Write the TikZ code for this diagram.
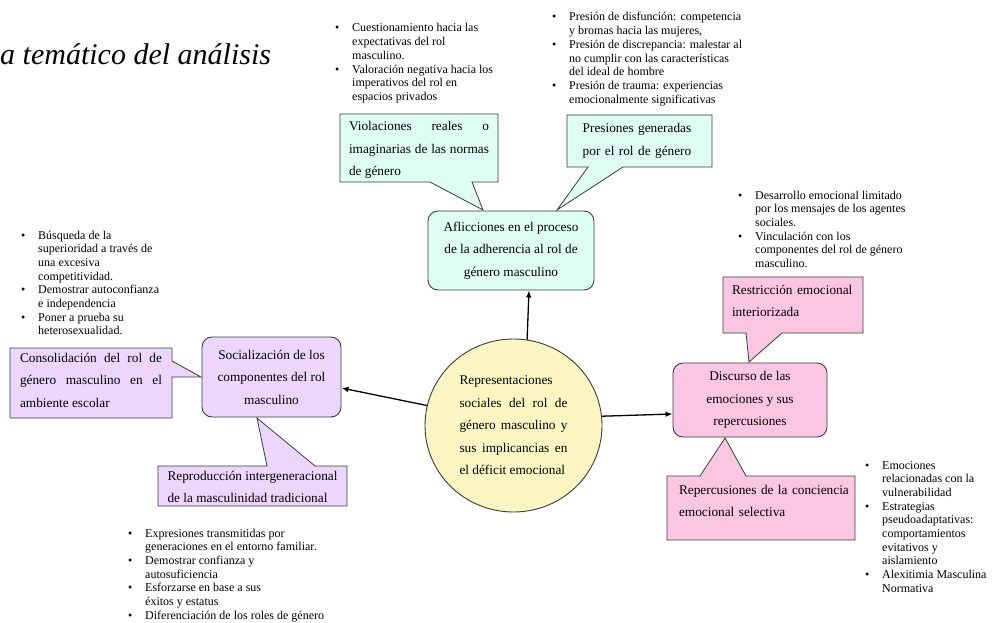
\documentclass[tikz,border=0pt]{standalone}
\usepackage{fontspec}
\setmainfont{Liberation Serif}
\usetikzlibrary{shapes.geometric,arrows.meta}

\definecolor{aqua}{HTML}{DEFDF3}
\definecolor{lila}{HTML}{ECD6FB}
\definecolor{rosa}{HTML}{FBC6E1}
\definecolor{crema}{HTML}{FBF5C1}
\definecolor{borde}{HTML}{3C3C3C}

\newcommand{\bl}{\makebox[17pt][l]{\textbullet}}
\newcommand{\boxfont}{\fontsize{13.3}{22.5}\selectfont}
\newcommand{\listfont}{\fontsize{12}{13.7}\selectfont}

\tikzset{
  tema/.style={draw=borde, line width=0.9pt, rounded corners=10pt, align=center, font=\boxfont, inner sep=0pt},
  globo/.style={draw=borde, line width=0.8pt},
  globotxt/.style={inner sep=0pt, font=\boxfont, align=justify},
  lista/.style={inner sep=0pt, anchor=base west, font=\listfont},
  flecha/.style={line width=1.3pt, -{Latex[length=7pt,width=5.5pt]}}
}

\begin{document}
\begin{tikzpicture}[x=1pt, y=-1pt]
  % marco de la pagina
  \useasboundingbox (0,0) rectangle (995,623);

  %% TITULO
  \node[anchor=base west, inner sep=0pt, font=\fontsize{30}{36}\selectfont\itshape] (titulo) at (0,65) {a temático del análisis};

  %% NUCLEO
  \node[ellipse, draw=borde, line width=0.9pt, fill=crema, minimum width=177pt, minimum height=173pt,
        inner sep=0pt, text width=108pt, align=justify, font=\boxfont] (nucleo) at (513.5,425.5)
    {Representaciones\newline sociales del rol de\linebreak género masculino y\linebreak sus implicancias en\linebreak el déficit emocional};

  %% CATEGORIAS
  % Aflicciones
  \node[tema, fill=aqua, minimum width=166pt, minimum height=79pt] (aflic) at (511,250.5)
    {Aflicciones en el proceso\\de la adherencia al rol de\\género masculino};
  % Socializacion
  \node[tema, fill=lila, minimum width=139pt, minimum height=80pt] (social) at (271.5,377)
    {Socialización de los\\componentes del rol\\masculino};
  % Discurso
  \node[tema, fill=rosa, minimum width=154pt, minimum height=74pt] (discurso) at (750,400)
    {Discurso de las\\emociones y sus\\repercusiones};

  %% FLECHAS
  \draw[flecha] (nucleo.81) -- ([xshift=18pt]aflic.south);
  \draw[flecha] (nucleo.167) -- ([yshift=-11pt]social.east);
  \draw[flecha] (nucleo.6) -- ([yshift=-14pt]discurso.west);

  %% SUBCATEGORIAS (globos)
  % Violaciones
  \draw[globo, fill=aqua] (340,114) -- (498,114) -- (498,182) -- (472,182) -- (483,210) -- (430,182) -- (340,182) -- cycle;
  \node[globotxt, text width=140pt] (violacion) at (419,150)
    {Violaciones reales o\linebreak imaginarias de las normas\linebreak de género};
  % Presiones
  \draw[globo, fill=aqua] (567,115) -- (712,115) -- (712,167) -- (623,167) -- (557,210) -- (588,167) -- (567,167) -- cycle;
  \node[globotxt, align=center, text width=145pt] (presion) at (637,141)
    {Presiones generadas\\por el rol de género};
  % Consolidacion
  \draw[globo, fill=lila] (10,348) -- (172,348) -- (172,361) -- (201,377) -- (172,377) -- (172,418) -- (10,418) -- cycle;
  \node[globotxt, text width=142pt] (consolida) at (91,380)
    {Consolidación del rol de\linebreak género masculino en el\linebreak ambiente escolar};
  % Reproduccion
  \draw[globo, fill=lila] (158,466) -- (267,466) -- (257,418) -- (315,466) -- (347,466) -- (347,506) -- (158,506) -- cycle;
  \node[globotxt, text width=170pt] (reproduce) at (252.5,487)
    {Reproducción intergeneracional\linebreak de la masculinidad tradicional};
  % Restriccion
  \draw[globo, fill=rosa] (723,277) -- (863,277) -- (863,333) -- (782,333) -- (749,362) -- (746,333) -- (723,333) -- cycle;
  \node[globotxt, align=left, text width=125pt] (restric) at (794.5,301)
    {Restricción emocional\\interiorizada};
  % Repercusiones
  \draw[globo, fill=rosa] (667,476) -- (700,476) -- (725,438) -- (746,476) -- (855,476) -- (855,540) -- (667,540) -- cycle;
  \node[globotxt, align=left, text width=172pt] (repercu) at (765,501)
    {Repercusiones de la conciencia\\emocional selectiva};

  %% LISTAS DE CODIGOS
  \node[lista] (lista1) at (335,32) {\begin{tabular}[t]{@{}l@{}l@{}}
    \bl & Cuestionamiento hacia las\\
        & expectativas del rol\\
        & masculino.\\
    \bl & Valoración negativa hacia los\\
        & imperativos del rol en\\
        & espacios privados
  \end{tabular}};

  \node[lista] (lista2) at (552,21) {\begin{tabular}[t]{@{}l@{}l@{}}
    \bl & Presión de disfunción: competencia\\
        & y bromas hacia las mujeres,\\
    \bl & Presión de discrepancia: malestar al\\
        & no cumplir con las características\\
        & del ideal de hombre\\
    \bl & Presión de trauma: experiencias\\
        & emocionalmente significativas
  \end{tabular}};

  \node[lista] (lista3) at (21,239) {\begin{tabular}[t]{@{}l@{}l@{}}
    \bl & Búsqueda de la\\
        & superioridad a través de\\
        & una excesiva\\
        & competitividad.\\
    \bl & Demostrar autoconfianza\\
        & e independencia\\
    \bl & Poner a prueba su\\
        & heterosexualidad.
  \end{tabular}};

  \node[lista] (lista4) at (128,537) {\begin{tabular}[t]{@{}l@{}l@{}}
    \bl & Expresiones transmitidas por\\
        & generaciones en el entorno familiar.\\
    \bl & Demostrar confianza y\\
        & autosuficiencia\\
    \bl & Esforzarse en base a sus\\
        & éxitos y estatus\\
    \bl & Diferenciación de los roles de género
  \end{tabular}};

  \node[lista] (lista5) at (738,199) {\begin{tabular}[t]{@{}l@{}l@{}}
    \bl & Desarrollo emocional limitado\\
        & por los mensajes de los agentes\\
        & sociales.\\
    \bl & Vinculación con los\\
        & componentes del rol de género\\
        & masculino.
  \end{tabular}};

  \node[lista] (lista6) at (865,469) {\begin{tabular}[t]{@{}l@{}l@{}}
    \bl & Emociones\\
        & relacionadas con la\\
        & vulnerabilidad\\
    \bl & Estrategias\\
        & pseudoadaptativas:\\
        & comportamientos\\
        & evitativos y\\
        & aislamiento\\
    \bl & Alexitimia Masculina\\
        & Normativa
  \end{tabular}};
\end{tikzpicture}
\end{document}
